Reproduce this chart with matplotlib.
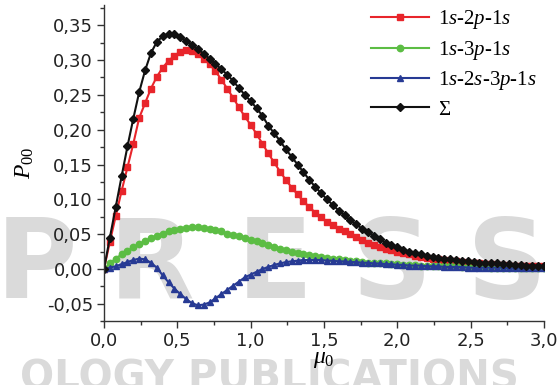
import numpy as np
import matplotlib
matplotlib.use("Agg")
import matplotlib.pyplot as plt
from matplotlib.ticker import MultipleLocator, FuncFormatter

# Mathtext im Times-Stil (Liberation Serif)
plt.rcParams['mathtext.fontset'] = 'custom'
plt.rcParams['mathtext.rm'] = 'Liberation Serif'
plt.rcParams['mathtext.it'] = 'Liberation Serif:italic'

# Stuetzstellen mu_0 (Abstand 0,04)
mu = np.round(np.arange(0, 3.0001, 0.04), 2)

# 1s-2p-1s
p_2p = [0.000, 0.039, 0.076, 0.112, 0.146, 0.180, 0.217, 0.238, 0.259, 0.276,
        0.289, 0.299, 0.306, 0.312, 0.314, 0.313, 0.309, 0.302, 0.294, 0.284,
        0.272, 0.259, 0.246, 0.232, 0.219, 0.207, 0.194, 0.180, 0.166, 0.153,
        0.140, 0.128, 0.117, 0.107, 0.097, 0.089, 0.081, 0.074, 0.068, 0.063,
        0.058, 0.054, 0.050, 0.046, 0.042, 0.038, 0.035, 0.032, 0.029, 0.027,
        0.025, 0.023, 0.021, 0.019, 0.017, 0.016, 0.015, 0.014, 0.013, 0.012,
        0.011, 0.010, 0.009, 0.008, 0.008, 0.007, 0.007, 0.006, 0.006, 0.005,
        0.005, 0.005, 0.004, 0.004, 0.004, 0.004]

# 1s-3p-1s
p_3p = [0.000, 0.008, 0.015, 0.021, 0.026, 0.031, 0.036, 0.040, 0.044, 0.048,
        0.051, 0.054, 0.056, 0.058, 0.059, 0.060, 0.060, 0.059, 0.058, 0.056,
        0.054, 0.051, 0.049, 0.047, 0.045, 0.042, 0.040, 0.037, 0.034, 0.032,
        0.029, 0.027, 0.025, 0.023, 0.021, 0.020, 0.018, 0.017, 0.016, 0.015,
        0.014, 0.013, 0.012, 0.011, 0.010, 0.009, 0.009, 0.008, 0.008, 0.007,
        0.007, 0.006, 0.006, 0.006, 0.005, 0.005, 0.005, 0.004, 0.004, 0.004,
        0.004, 0.003, 0.003, 0.003, 0.003, 0.003, 0.002, 0.002, 0.002, 0.002,
        0.002, 0.002, 0.002, 0.001, 0.001, 0.001]

# 1s-2s-3p-1s
p_2s3p = [0.000, 0.002, 0.004, 0.007, 0.010, 0.013, 0.015, 0.014, 0.009, 0.002,
          -0.009, -0.019, -0.028, -0.036, -0.043, -0.049, -0.052, -0.051, -0.048, -0.042,
          -0.036, -0.030, -0.024, -0.018, -0.012, -0.008, -0.004, 0.000, 0.003, 0.006,
          0.008, 0.010, 0.011, 0.012, 0.013, 0.013, 0.013, 0.013, 0.012, 0.012,
          0.011, 0.011, 0.010, 0.010, 0.009, 0.009, 0.008, 0.008, 0.007, 0.007,
          0.006, 0.006, 0.005, 0.005, 0.005, 0.004, 0.004, 0.004, 0.003, 0.003,
          0.003, 0.003, 0.002, 0.002, 0.002, 0.002, 0.002, 0.002, 0.002, 0.001,
          0.001, 0.001, 0.001, 0.001, 0.001, 0.001]

# Summe
p_sum = [0.000, 0.045, 0.089, 0.133, 0.176, 0.216, 0.254, 0.285, 0.310, 0.326,
         0.334, 0.338, 0.337, 0.333, 0.328, 0.322, 0.316, 0.309, 0.302, 0.294,
         0.287, 0.279, 0.270, 0.260, 0.250, 0.241, 0.231, 0.220, 0.206, 0.195,
         0.184, 0.172, 0.161, 0.150, 0.139, 0.128, 0.118, 0.109, 0.100, 0.092,
         0.084, 0.077, 0.070, 0.064, 0.058, 0.053, 0.048, 0.043, 0.038, 0.034,
         0.031, 0.028, 0.025, 0.023, 0.021, 0.019, 0.017, 0.016, 0.015, 0.014,
         0.013, 0.012, 0.011, 0.010, 0.009, 0.009, 0.008, 0.008, 0.007, 0.007,
         0.006, 0.006, 0.005, 0.005, 0.005, 0.004]

labels = ["$1s$-$2p$-$1s$", "$1s$-$3p$-$1s$", "$1s$-$2s$-$3p$-$1s$", "Σ"]

fig = plt.figure(figsize=(5.6, 3.85), dpi=100)

# Wasserzeichen im Hintergrund
wm = "#dadada"
for ch, xc in zip("PRESS", [0.065, 0.27, 0.49, 0.70, 0.905]):
    fig.text(xc, 0.305, ch, fontsize=80, fontweight="bold", color=wm,
             ha="center", va="center", zorder=-5)
fig.text(0.035, -0.035, "OLOGY PUBLICATIONS", fontsize=29, fontweight="bold",
         color=wm, ha="left", va="bottom", zorder=-5)

ax = fig.add_axes([0.1857, 0.1655, 0.7857, 0.8215])
ax.set_facecolor("none")

lw = 1.5
ax.plot(mu, p_2p, color="#e8252b", marker="s", markersize=4.2, lw=lw, label=labels[0])
ax.plot(mu, p_3p, color="#5cbd44", marker="o", markersize=4.6, lw=lw, label=labels[1])
ax.plot(mu, p_2s3p, color="#273a94", marker="^", markersize=4.6, lw=lw, label=labels[2])
ax.plot(mu, p_sum, color="#111111", marker="D", markersize=3.8, lw=lw, label=labels[3])

ax.set_xlim(0, 3.0)
ax.set_ylim(-0.075, 0.379)

ax.spines["top"].set_visible(False)
ax.spines["right"].set_visible(False)
for s in ["left", "bottom"]:
    ax.spines[s].set_linewidth(1.0)
    ax.spines[s].set_color("#333333")

ax.xaxis.set_major_locator(MultipleLocator(0.5))
ax.xaxis.set_minor_locator(MultipleLocator(0.25))
ax.yaxis.set_major_locator(MultipleLocator(0.05))
ax.yaxis.set_minor_locator(MultipleLocator(0.025))
ax.xaxis.set_major_formatter(FuncFormatter(lambda v, p: f"{v:.1f}".replace(".", ",")))
ax.yaxis.set_major_formatter(FuncFormatter(lambda v, p: f"{v:.2f}".replace(".", ",").replace("-0,00", "0,00")))

ax.tick_params(which="major", direction="out", length=5, width=1.0, labelsize=13,
               color="#333333", labelcolor="#222222", pad=3)
ax.tick_params(which="minor", direction="out", length=3, width=1.0, color="#333333")

ax.set_xlabel(r"$\mu_{\mathit{0}}$", fontsize=17, labelpad=-3)
ax.set_ylabel(r"$P_{00}$", fontsize=17, labelpad=8)

ax.legend(loc="upper left", bbox_to_anchor=(0.6625, 0.978), bbox_transform=fig.transFigure,
          frameon=False, borderpad=0, borderaxespad=0, handlelength=2.8,
          handletextpad=0.4, labelspacing=0.36, markerscale=1.0,
          prop={"family": "Liberation Serif", "size": 15})

fig.savefig("out.png", dpi=100)
